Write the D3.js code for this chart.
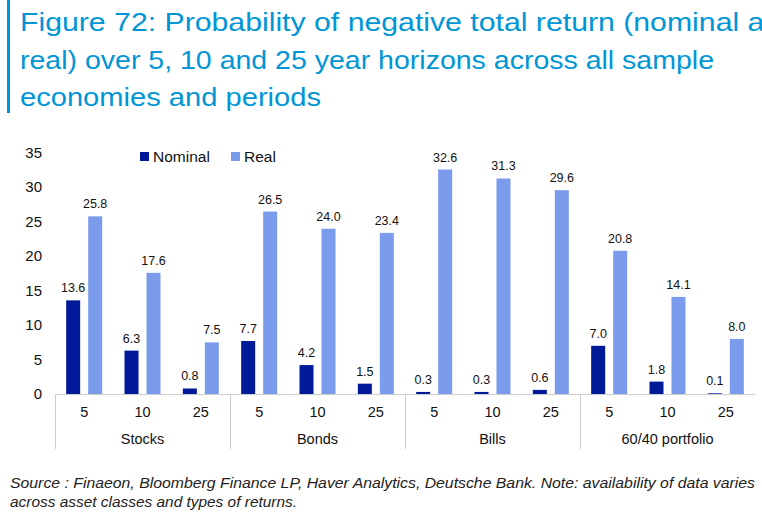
<!DOCTYPE html><html><head><meta charset="utf-8">
<script src="https://cdn.jsdelivr.net/npm/d3@7"></script>
<style>body{margin:0;background:#fff;font-family:"Liberation Sans",Arial,sans-serif}</style></head><body>
<svg id="c" width="762" height="519"></svg>
<script>
const groups=["Stocks","Bonds","Bills","60/40 portfolio"];
const horizons=["5","10","25"];
const nominal=[13.6,6.3,0.8,7.7,4.2,1.5,0.3,0.3,0.6,7.0,1.8,0.1];
const real=[25.8,17.6,7.5,26.5,24.0,23.4,32.6,31.3,29.6,20.8,14.1,8.0];
const yTicks=[0,5,10,15,20,25,30,35];
const svg=d3.select("#c");
const cN="#001a99",cR="#7b9cec";
svg.append("rect").attr("x",7).attr("y",0).attr("width",3).attr("height",113).attr("fill","#0096d6");
[["Figure 72: Probability of negative total return (nominal and",778],["real) over 5, 10 and 25 year horizons across all sample",694],["economies and periods",301]].forEach(([t,w],i)=>
 svg.append("text").attr("x",20).attr("y",31+i*37.5).attr("fill","#0096d6").attr("font-size",25.5).attr("textLength",w).attr("lengthAdjust","spacingAndGlyphs").text(t));
const L=55,R=755,y=d3.scaleLinear().domain([0,35]).range([394,153]);
const keys=[];groups.forEach(g=>horizons.forEach(h=>keys.push(g+"|"+h)));
const x=d3.scaleBand().domain(keys).range([L,R]);
const xg=d3.scaleBand().domain(groups).range([L,R]);
yTicks.forEach(v=>svg.append("text").attr("x",42).attr("y",y(v)+5).attr("text-anchor","end").attr("font-size",15).attr("fill","#111").text(v));
const bw=14;
keys.forEach((k,i)=>{
 const cx=x(k)+x.bandwidth()/2;
 [[nominal[i],cN,cx-18],[real[i],cR,cx+4]].forEach(([v,c,bx])=>{
  svg.append("rect").attr("x",bx).attr("y",y(v)).attr("width",bw).attr("height",394-y(v)).attr("fill",c);
  svg.append("text").attr("x",bx+bw/2).attr("y",y(v)-8).attr("text-anchor","middle").attr("font-size",12.5).attr("fill","#111").text(v.toFixed(1));
 });
 svg.append("text").attr("x",cx).attr("y",417).attr("text-anchor","middle").attr("font-size",14.5).attr("fill","#111").text(k.split("|")[1]);
});
groups.forEach(g=>svg.append("text").attr("x",xg(g)+xg.bandwidth()/2).attr("y",444).attr("text-anchor","middle").attr("font-size",14.5).attr("fill","#111").text(g));
svg.append("line").attr("x1",L).attr("x2",R).attr("y1",394.5).attr("y2",394.5).attr("stroke","#ccc");
[L,...groups.slice(1).map(g=>xg(g))].forEach(v=>svg.append("line").attr("x1",v+.5).attr("x2",v+.5).attr("y1",394).attr("y2",449).attr("stroke","#ccc"));
svg.append("rect").attr("x",140).attr("y",152).attr("width",9).attr("height",9).attr("fill",cN);
svg.append("text").attr("x",153).attr("y",162).attr("font-size",15.5).attr("fill","#111").text("Nominal");
svg.append("rect").attr("x",231).attr("y",152).attr("width",9).attr("height",9).attr("fill",cR);
svg.append("text").attr("x",244).attr("y",162).attr("font-size",15.5).attr("fill","#111").text("Real");
[["Source : Finaeon, Bloomberg Finance LP, Haver Analytics, Deutsche Bank. Note: availability of data varies",745],["across asset classes and types of returns.",287]].forEach(([t,w],i)=>
 svg.append("text").attr("x",10).attr("y",488+i*19).attr("font-size",15).attr("font-style","italic").attr("fill","#222").attr("textLength",w).attr("lengthAdjust","spacingAndGlyphs").text(t));
</script></body></html>
